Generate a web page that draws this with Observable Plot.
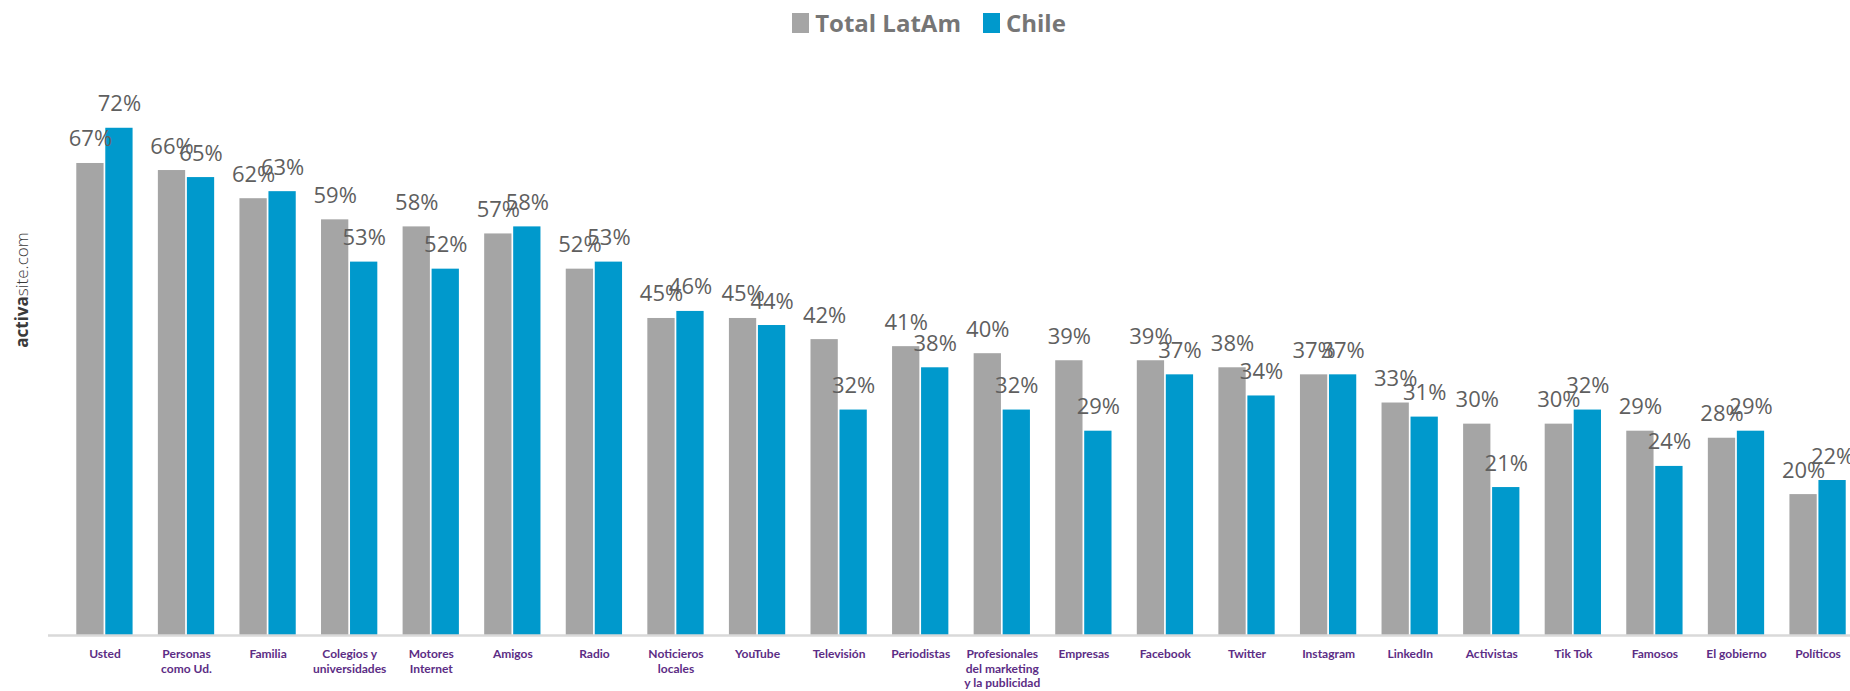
<!DOCTYPE html>
<html>
<head>
<meta charset="utf-8">
<script src="https://cdn.jsdelivr.net/npm/d3@7"></script>
<script src="https://cdn.jsdelivr.net/npm/@observablehq/plot@0.6"></script>
<style>
  html, body { margin: 0; padding: 0; background: #fff; overflow: hidden; }
  #wrap { position: relative; width: 1850px; height: 691px; }
  #legend { height: 45px; display: flex; justify-content: center; align-items: center; gap: 0; font-family: "Open Sans", sans-serif; font-weight: 700; font-size: 24px; color: #767676; padding-left: 8px; box-sizing: border-box; }
  .item { display: flex; align-items: center; margin: 0 11px; }
  .sw { width: 17px; height: 20px; margin-right: 6px; }
  #mark { position: absolute; left: 21px; top: 290px; transform: translate(-50%, -50%) rotate(-90deg); font-family: "Open Sans", sans-serif; font-size: 17px; color: #3a3a3a; white-space: nowrap; }
  #mark b { font-weight: 700; }
  #mark span { font-weight: 300; }
</style>
</head>
<body>
<div id="wrap">
  <div id="legend"></div>
  <div id="mark"><b>activa</b><span>site.com</span></div>
  <div id="chart"></div>
</div>
<script>
const categories = ["Usted","Personas como Ud.","Familia","Colegios y universidades","Motores Internet","Amigos","Radio","Noticieros locales","YouTube","Televisión","Periodistas","Profesionales del marketing y la publicidad","Empresas","Facebook","Twitter","Instagram","LinkedIn","Activistas","Tik Tok","Famosos","El gobierno","Políticos"];
const tickLabels = ["Usted","Personas\ncomo Ud.","Familia","Colegios y\nuniversidades","Motores\nInternet","Amigos","Radio","Noticieros\nlocales","YouTube","Televisión","Periodistas","Profesionales\ndel marketing\ny la publicidad","Empresas","Facebook","Twitter","Instagram","LinkedIn","Activistas","Tik Tok","Famosos","El gobierno","Políticos"];
const totalLatAm = [67,66,62,59,58,57,52,45,45,42,41,40,39,39,38,37,33,30,30,29,28,20];
const chile = [72,65,63,53,52,58,53,46,44,32,38,32,29,37,34,37,31,21,32,24,29,22];
const seriesNames = ["Total LatAm","Chile"];
const seriesColors = ["#a5a5a5","#0099cc"];

const legend = document.getElementById("legend");
seriesNames.forEach((n, i) => {
  const it = document.createElement("div");
  it.className = "item";
  it.innerHTML = `<div class="sw" style="background:${seriesColors[i]}"></div><div>${n}</div>`;
  legend.appendChild(it);
});

const rows = categories.map((c, i) => ({category: c, latam: totalLatAm[i] / 100, chile: chile[i] / 100}));
const fmt = v => Math.round(v * 100) + "%";
const half = 14.5;

const chart = Plot.plot({
  width: 1850,
  height: 646,
  marginLeft: 51,
  marginRight: -21,
  marginTop: 26.4,
  marginBottom: 56,
  style: {fontFamily: "Open Sans, sans-serif", background: "transparent"},
  x: {domain: categories, padding: 0.31, round: false, axis: null},
  y: {domain: [0, 0.8], axis: null},
  marks: [
    Plot.barY(rows, {x: "category", y: "latam", fill: seriesColors[0], insetRight: 29}),
    Plot.barY(rows, {x: "category", y: "chile", fill: seriesColors[1], insetLeft: 29}),
    Plot.ruleY([0], {stroke: "#d9d9d9", strokeWidth: 2.5, insetLeft: -3}),
    Plot.text(rows, {x: "category", y: "latam", text: d => fmt(d.latam), dx: -half, dy: -17, lineAnchor: "bottom", fontSize: 22, fill: "#5f5f5f"}),
    Plot.text(rows, {x: "category", y: "chile", text: d => fmt(d.chile), dx: half, dy: -17, lineAnchor: "bottom", fontSize: 22, fill: "#5f5f5f"}),
    Plot.axisX({tickSize: 0, tickPadding: 13, tickFormat: d => tickLabels[categories.indexOf(d)], fill: "#5c2d85", fontWeight: "bold", fontSize: 12, fontFamily: "Lato, sans-serif", lineHeight: 1.17, label: null})
  ]
});
document.getElementById("chart").appendChild(chart);
</script>
</body>
</html>
